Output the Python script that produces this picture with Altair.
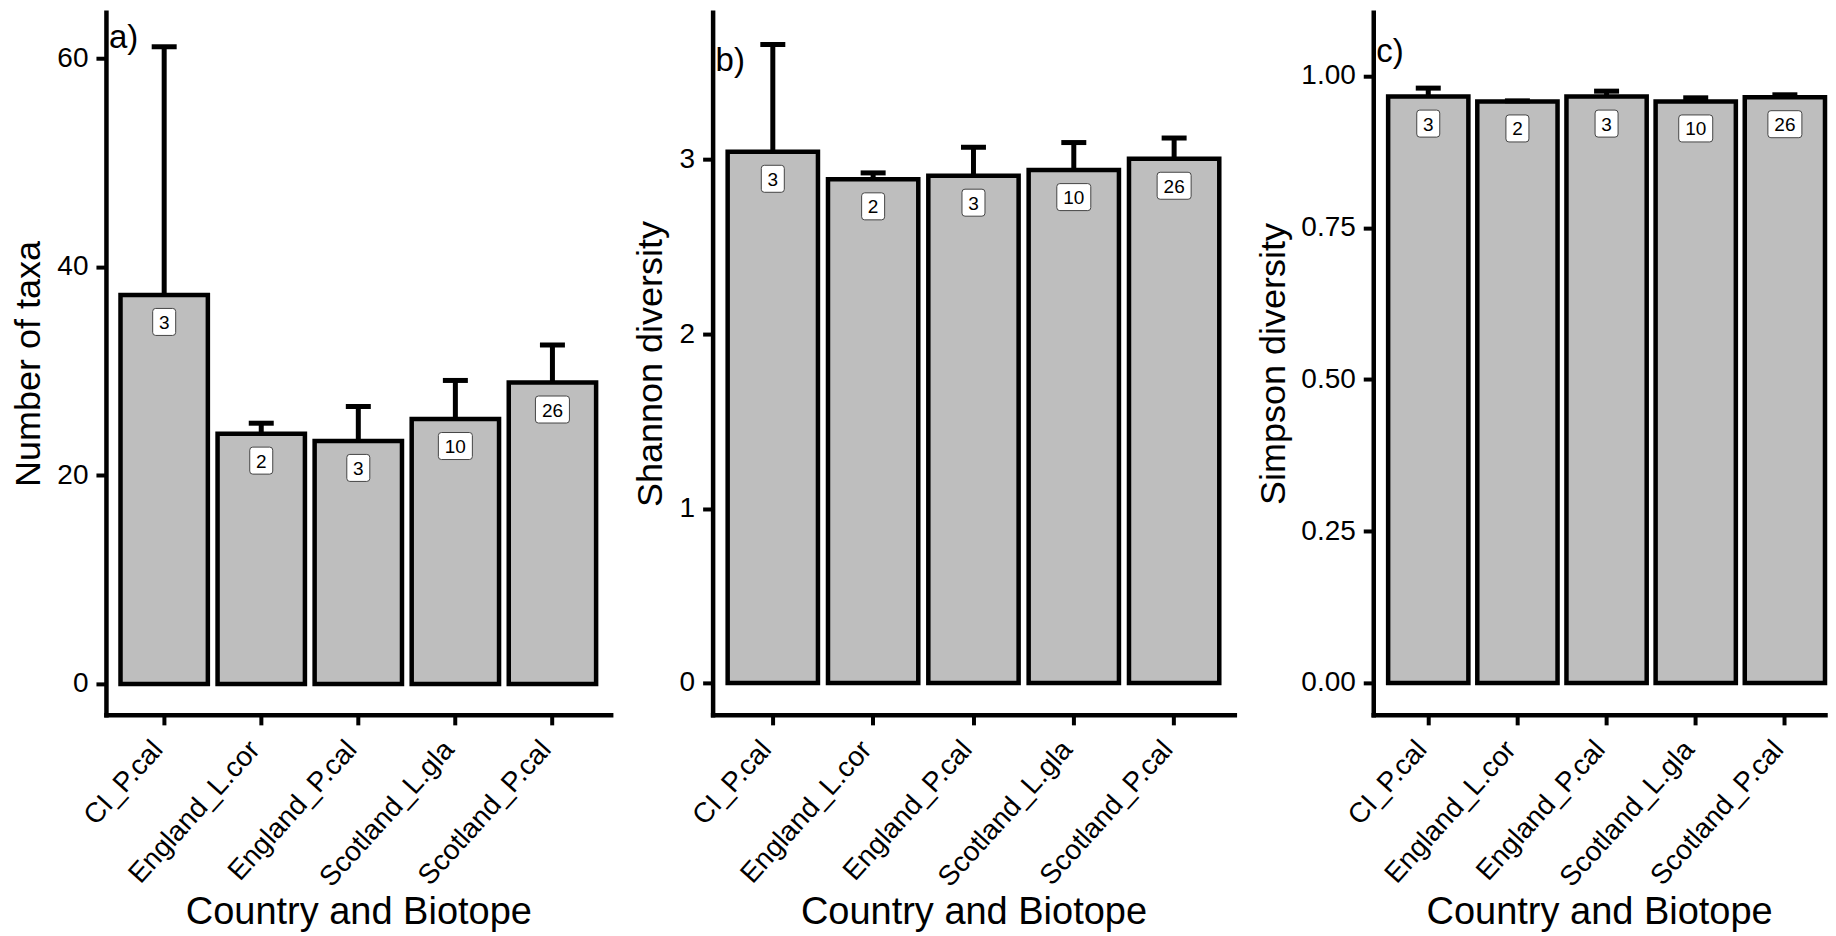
import altair as alt
import pandas as pd

# ---------------- data ----------------
categories = ["CI_P.cal", "England_L.cor", "England_P.cal", "Scotland_L.gla", "Scotland_P.cal"]
n_samples = [3, 2, 3, 10, 26]

taxa_mean = [37.3, 24.0, 23.3, 25.4, 28.9]
taxa_upper = [61.1, 25.0, 26.6, 29.1, 32.5]

shannon_mean = [3.045, 2.887, 2.908, 2.940, 3.005]
shannon_upper = [3.66, 2.924, 3.071, 3.098, 3.124]

simpson_mean = [0.966, 0.958, 0.966, 0.958, 0.965]
simpson_upper = [0.980, 0.959, 0.975, 0.964, 0.969]

taxa_ticks = [0, 20, 40, 60]
shannon_ticks = [0, 1, 2, 3]
simpson_ticks = [0, 0.25, 0.5, 0.75, 1.0]

FONT = "Liberation Sans"
PLOT_H = 703
K = 22.0  # custom symbol unit scale = sqrt(size)/2


def box_path(w, h, r=3.0):
    hw, hh, rr = w / 2 / K, h / 2 / K, r / K
    return (
        f"M{-hw + rr:.3f},{-hh:.3f} L{hw - rr:.3f},{-hh:.3f} "
        f"Q{hw:.3f},{-hh:.3f} {hw:.3f},{-hh + rr:.3f} "
        f"L{hw:.3f},{hh - rr:.3f} Q{hw:.3f},{hh:.3f} {hw - rr:.3f},{hh:.3f} "
        f"L{-hw + rr:.3f},{hh:.3f} Q{-hw:.3f},{hh:.3f} {-hw:.3f},{hh - rr:.3f} "
        f"L{-hw:.3f},{-hh + rr:.3f} Q{-hw:.3f},{-hh:.3f} {-hw + rr:.3f},{-hh:.3f} Z"
    )


BOX1 = box_path(23, 27)
BOX2 = box_path(34, 27)


def panel(mean, upper, ytitle, domain, ticks, fmt, tag, tag_y, width, xscale, ytp):
    df = pd.DataFrame({
        "cat": categories,
        "mean": mean,
        "upper": upper,
        "n": [str(v) for v in n_samples],
        "nd": [str(len(str(v))) for v in n_samples],
    })
    xaxis = alt.Axis(
        labelAngle=312, labelAlign="right", labelBaseline="middle",
        labelPadding=20, labelOffset=-6, labelLimit=400, bandPosition=0.5,
        labelFontSize=28, titlePadding=2, titleFontSize=38,
    )
    x = alt.X("cat:N", sort=categories, scale=xscale, axis=xaxis,
              title="Country and Biotope")
    yscale = alt.Scale(domain=domain, nice=False, zero=False)
    yaxis = alt.Axis(values=ticks, format=fmt, labelPadding=8, titlePadding=ytp,
                     titleFontSize=36, labelFontSize=28)

    def yenc(field):
        return alt.Y(f"{field}:Q", scale=yscale, axis=yaxis, title=ytitle)

    base = alt.Chart(df)
    stem = base.mark_rule(color="black", strokeWidth=5).encode(
        x=x, y=yenc("mean"), y2="upper:Q")
    bars = base.mark_bar(fill="#BEBEBE", stroke="black", strokeWidth=4.5,
                         strokeJoin="miter").encode(
        x=x, y=yenc("mean"), y2=alt.datum(0))
    caps = base.mark_tick(color="black", thickness=5, size=25,
                          orient="horizontal", opacity=1).encode(
        x=x, y=yenc("upper"))
    boxes = base.mark_point(filled=True, fill="white", stroke="#444444",
                            strokeWidth=1, opacity=1, yOffset=27).encode(
        x=x, y=yenc("mean"),
        shape=alt.Shape("nd:N", scale=alt.Scale(domain=["1", "2"], range=[BOX1, BOX2]),
                        legend=None),
        size=alt.value(4 * K * K),
    )
    texts = base.mark_text(font=FONT, fontSize=19, color="black",
                           baseline="middle", yOffset=28).encode(
        x=x, y=yenc("mean"), text="n:N")
    tagdf = pd.DataFrame({"tag": [tag], "mean": [tag_y]})
    tagm = alt.Chart(tagdf).mark_text(font=FONT, fontSize=33, color="black",
                                      align="left", baseline="alphabetic").encode(
        x=alt.value(3), y=yenc("mean"), text="tag:N")
    return alt.layer(stem, bars, caps, boxes, texts, tagm).properties(
        width=width, height=PLOT_H)


std_x = alt.Scale(paddingInner=0.1, paddingOuter=0.15)
# last panel is cut by the right edge of the figure: outer padding only on the left
cut_x = alt.Scale(paddingInner=0.1, paddingOuter=0.0835, align=1)

pa = panel(taxa_mean, taxa_upper, "Number of taxa", [-2.97, 64.41],
           taxa_ticks, "d", "a)", 61.0, 505, std_x, 9)
pb = panel(shannon_mean, shannon_upper, "Shannon diversity", [-0.183, 3.845],
           shannon_ticks, "d", "b)", 3.51, 522, std_x, 10)
pc = panel(simpson_mean, simpson_upper, "Simpson diversity", [-0.0527, 1.105],
           simpson_ticks, ".2f", "c)", 1.023, 452, cut_x, 8)

chart = alt.hconcat(pa, pb, pc, spacing=21).resolve_scale(
    x="independent", y="independent"
).properties(
    padding={"left": 2, "top": 4, "right": 0, "bottom": 0}
).configure_view(stroke=None).configure_axis(
    domainColor="black", domainWidth=4.5, domainCap="square",
    tickColor="black", tickWidth=4, tickSize=10,
    labelColor="black", titleColor="black",
    labelFont=FONT, titleFont=FONT,
    titleFontWeight="normal",
    grid=False,
)

chart.save("out.html", embed_options={"renderer": "svg", "actions": False})
